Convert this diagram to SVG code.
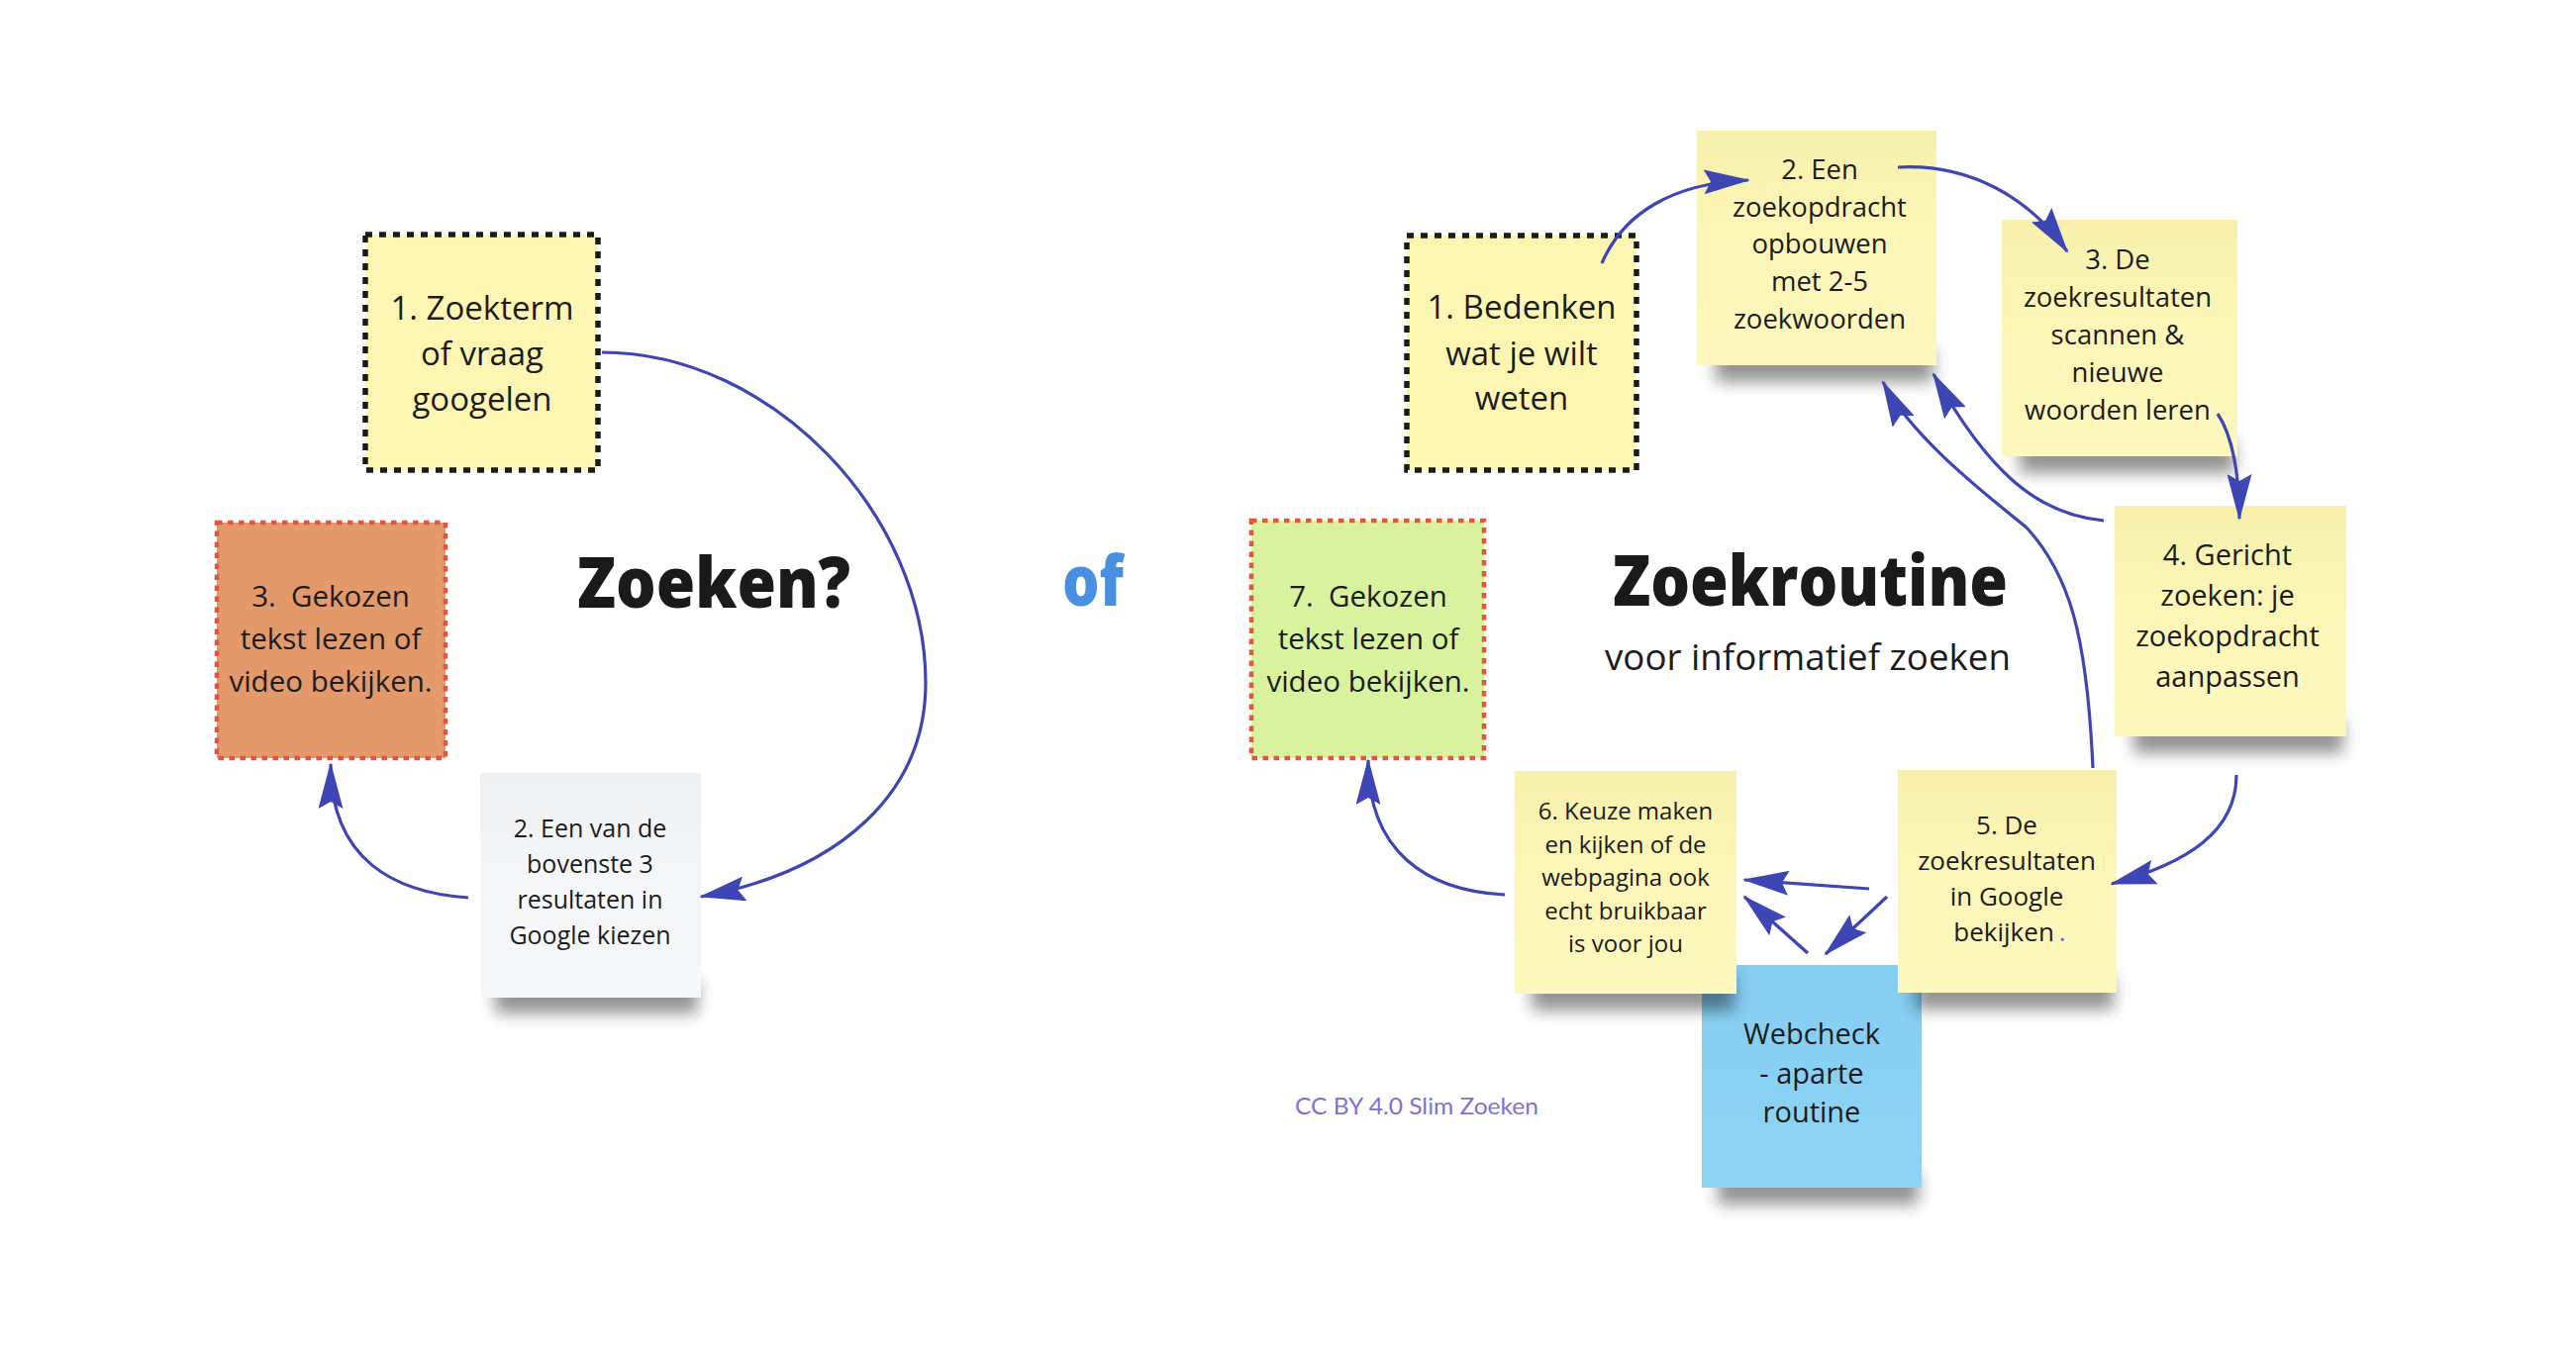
<svg xmlns="http://www.w3.org/2000/svg" width="2602" height="1362" viewBox="0 0 2602 1362">
<style>
.t{font-family:"Open Sans","Noto Sans","DejaVu Sans",sans-serif;fill:#1c1c1c;text-anchor:middle}
.pre{white-space:pre}
.dotk{stroke:#1a1a1a;stroke-width:5.5;stroke-dasharray:7 7}
.dotr{stroke:#e4553b;stroke-width:4.5;stroke-dasharray:5.5 5.5}
.sh{fill:#000;opacity:.42;filter:url(#blur)}
.cn{fill:none;stroke:#3d46b4;stroke-width:3.2;marker-end:url(#ah)}
.yel{fill:url(#gy)}
.ttl{font-family:"Open Sans","Noto Sans","DejaVu Sans",sans-serif;font-weight:800;fill:#1a1a1a}
</style>
<defs>
<filter id="blur" x="-20%" y="-100%" width="140%" height="300%"><feGaussianBlur stdDeviation="8"/></filter>
<linearGradient id="gy" x1="0" y1="0" x2="0" y2="1"><stop offset="0" stop-color="#f7f0ac"/><stop offset="0.35" stop-color="#fbf5b5"/><stop offset="1" stop-color="#fdf8bd"/></linearGradient>
<linearGradient id="gg" x1="0" y1="0" x2="0" y2="1"><stop offset="0" stop-color="#eeeff1"/><stop offset="0.35" stop-color="#f4f5f7"/><stop offset="1" stop-color="#f6f7f9"/></linearGradient>
<linearGradient id="gb" x1="0" y1="0" x2="0" y2="1"><stop offset="0" stop-color="#84cdf1"/><stop offset="1" stop-color="#8ed5f5"/></linearGradient>
<marker id="ah" markerUnits="userSpaceOnUse" markerWidth="47" markerHeight="25" viewBox="0 0 47 25" refX="45" refY="12.5" orient="auto"><path d="M0,0 L47,12.5 L0,25 L7,12.5 Z" fill="#3d46b4"/></marker>
</defs>
<rect width="2602" height="1362" fill="#ffffff"/>

<g id="left-1">
<rect x="369" y="237" width="235" height="238" fill="#fdf6b3" class="dotk"/>
<text class="t" font-size="33"><tspan x="487" y="323">1. Zoekterm</tspan><tspan x="487" y="369">of vraag</tspan><tspan x="487" y="415">googelen</tspan></text>
</g>
<g id="left-3">
<rect x="219" y="528" width="231" height="238" fill="#e3996a" class="dotr"/>
<text class="t pre" font-size="29.5" xml:space="preserve"><tspan x="334" y="613">3.  Gekozen</tspan><tspan x="334" y="656">tekst lezen of</tspan><tspan x="334" y="699">video bekijken.</tspan></text>
</g>
<g id="left-2">
<rect x="500" y="990" width="205" height="34" class="sh"/>
<rect x="485" y="781" width="223" height="227" fill="url(#gg)"/>
<text class="t" font-size="25"><tspan x="596" y="846">2. Een van de</tspan><tspan x="596" y="882">bovenste 3</tspan><tspan x="596" y="918">resultaten in</tspan><tspan x="596" y="954">Google kiezen</tspan></text>
</g>
<g id="title-left">
<text class="ttl" x="583" y="614" font-size="70" textLength="276" lengthAdjust="spacingAndGlyphs">Zoeken?</text>
</g>
<g id="of">
<text class="ttl" x="1073" y="612" font-size="70" style="fill:#4a90e2" textLength="62" lengthAdjust="spacingAndGlyphs">of</text>
</g>
<g id="title-right">
<text class="ttl" x="1629" y="612" font-size="70" textLength="399" lengthAdjust="spacingAndGlyphs">Zoekroutine</text>
<text class="t" x="1826" y="677" font-size="37" textLength="410" lengthAdjust="spacingAndGlyphs">voor informatief zoeken</text>
</g>

<g id="r1">
<rect x="1421" y="238" width="232" height="237" fill="#fdf6b3" class="dotk"/>
<text class="t" font-size="33"><tspan x="1537" y="322">1. Bedenken</tspan><tspan x="1537" y="369">wat je wilt</tspan><tspan x="1537" y="414">weten</tspan></text>
</g>
<g id="r2">
<rect x="1733" y="352" width="220" height="34" class="sh"/>
<rect x="1714" y="132" width="242" height="237" class="yel"/>
<text class="t" font-size="27.5"><tspan x="1838" y="181">2. Een</tspan><tspan x="1838" y="219">zoekopdracht</tspan><tspan x="1838" y="256">opbouwen</tspan><tspan x="1838" y="294">met 2-5</tspan><tspan x="1838" y="332">zoekwoorden</tspan></text>
</g>
<g id="r3">
<rect x="2040" y="444" width="217" height="34" class="sh"/>
<rect x="2022" y="222" width="238" height="239" class="yel"/>
<text class="t" font-size="27.5"><tspan x="2139" y="272">3. De</tspan><tspan x="2139" y="310">zoekresultaten</tspan><tspan x="2139" y="348">scannen &amp;</tspan><tspan x="2139" y="386">nieuwe</tspan><tspan x="2139" y="424">woorden leren</tspan></text>
</g>
<g id="r4">
<rect x="2155" y="727" width="212" height="34" class="sh"/>
<rect x="2136" y="511" width="234" height="233" class="yel"/>
<text class="t" font-size="29"><tspan x="2250" y="571">4. Gericht</tspan><tspan x="2250" y="612">zoeken: je</tspan><tspan x="2250" y="653">zoekopdracht</tspan><tspan x="2250" y="694">aanpassen</tspan></text>
</g>
<g id="webcheck">
<rect x="1735" y="1183" width="203" height="34" class="sh"/>
<rect x="1719" y="975" width="222" height="225" fill="url(#gb)"/>
<text class="t" font-size="29"><tspan x="1830" y="1055">Webcheck</tspan><tspan x="1830" y="1095">- aparte</tspan><tspan x="1830" y="1134">routine</tspan></text>
</g>
<g id="r5">
<rect x="1934" y="986" width="201" height="34" class="sh"/>
<rect x="1917" y="778" width="221" height="225" class="yel"/>
<text class="t" font-size="26"><tspan x="2027" y="843">5. De</tspan><tspan x="2027" y="879">zoekresultaten</tspan><tspan x="2027" y="915">in Google</tspan><tspan x="2030" y="951">bekijken<tspan dx="5" style="fill:#6a64d6">.</tspan></tspan></text>
</g>
<g id="r6">
<rect x="1547" y="987" width="205" height="34" class="sh"/>
<rect x="1530" y="779" width="224" height="225" class="yel"/>
<text class="t" font-size="24"><tspan x="1642" y="828">6. Keuze maken</tspan><tspan x="1642" y="862">en kijken of de</tspan><tspan x="1642" y="895">webpagina ook</tspan><tspan x="1642" y="929">echt bruikbaar</tspan><tspan x="1642" y="962">is voor jou</tspan></text>
</g>
<g id="r7">
<rect x="1264" y="526" width="235" height="240" fill="#d8f29e" class="dotr"/>
<text class="t pre" font-size="29.5" xml:space="preserve"><tspan x="1382" y="613">7.  Gekozen</tspan><tspan x="1382" y="656">tekst lezen of</tspan><tspan x="1382" y="699">video bekijken.</tspan></text>
</g>
<g id="credit">
<text x="1308" y="1126" font-family="Lato, 'Open Sans', sans-serif" font-size="24" fill="#7b72de" textLength="246" lengthAdjust="spacingAndGlyphs">CC BY 4.0 Slim Zoeken</text>
</g>

<g id="connectors">
<path class="cn" d="M 608 356 C 780 356 935 520 935 690 C 935 800 850 880 708 906"/>
<path class="cn" d="M 473 907 C 400 902 334 870 334 772"/>
<path class="cn" d="M 1618 266 C 1640 215 1690 185 1766 182"/>
<path class="cn" d="M 1917 169 C 1990 165 2050 200 2088 254"/>
<path class="cn" d="M 2240 418 C 2255 440 2262 480 2262 524"/>
<path class="cn" d="M 2125 526 C 2060 520 2010 480 1953 378"/>
<path class="cn" d="M 2114 776 C 2108 640 2090 580 2047 533 C 2000 495 1930 440 1902 386"/>
<path class="cn" d="M 2259 783 C 2259 840 2210 872 2133 893"/>
<path class="cn" d="M 1888 898 L 1762 889"/>
<path class="cn" d="M 1906 906 L 1844 964"/>
<path class="cn" d="M 1826 963 L 1762 906"/>
<path class="cn" d="M 1520 904 C 1440 900 1382 860 1382 768"/>
</g>
</svg>
